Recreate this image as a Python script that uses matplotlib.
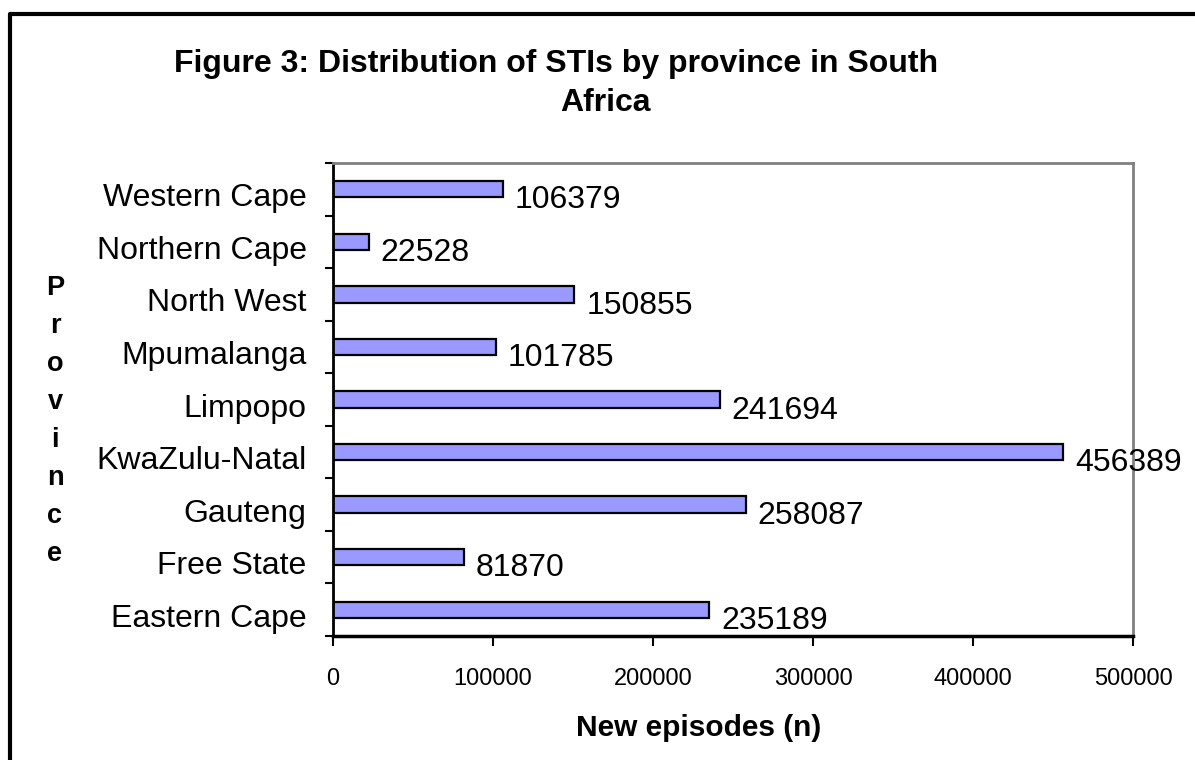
import matplotlib
matplotlib.use("Agg")
import matplotlib.pyplot as plt
from matplotlib.lines import Line2D
import numpy as np

provinces = ["Eastern Cape", "Free State", "Gauteng", "KwaZulu-Natal", "Limpopo",
             "Mpumalanga", "North West", "Northern Cape", "Western Cape"]
episodes = [235189, 81870, 258087, 456389, 241694, 101785, 150855, 22528, 106379]
xticks = [0, 100000, 200000, 300000, 400000, 500000]

plt.rcParams['font.family'] = ['Liberation Sans', 'DejaVu Sans']

W, H = 1195, 760
fig = plt.figure(figsize=(W / 100, H / 100), dpi=100)
ax = fig.add_axes([333 / W, 1 - 636 / H, 800 / W, (636 - 163) / H])

y = np.arange(len(provinces))
ax.barh(y, episodes, height=0.31, color='#9999FF', edgecolor='black', linewidth=1.6)

ax.set_xlim(0, 500000)
ax.set_ylim(-0.5, len(provinces) - 0.5)

# value labels
for yi, v in zip(y, episodes):
    ax.annotate(str(v), (v, yi), xytext=(8.5, -8), textcoords='offset points',
                ha='left', va='center', fontsize=23, color='black')

# y ticks between categories
ax.set_yticks(np.arange(-0.5, len(provinces), 1.0))
ax.set_yticklabels([])
ax.tick_params(axis='y', direction='out', length=6, width=1.5, color='black')
for yi, name in zip(y, provinces):
    ax.annotate(name, (0, yi), xytext=(-19, -6.5), textcoords='offset points',
                ha='right', va='center', fontsize=23, color='black',
                xycoords=('axes fraction', 'data'))

ax.set_xticks(xticks)
ax.set_xticklabels([str(t) for t in xticks], fontsize=17)
ax.tick_params(axis='x', direction='out', length=7, width=1.5, color='black', pad=16)

for s in ['top', 'right']:
    ax.spines[s].set_color('#808080')
    ax.spines[s].set_linewidth(2)
ax.spines['left'].set_color('black')
ax.spines['left'].set_linewidth(2)
ax.spines['bottom'].set_color('black')
ax.spines['bottom'].set_linewidth(2.5)

# titles
fig.text(556 / W, 1 - 64 / H, "Figure 3: Distribution of STIs by province in South",
         ha='center', va='center', fontsize=23, fontweight='bold')
fig.text(605 / W, 1 - 103 / H, "Africa",
         ha='center', va='center', fontsize=23, fontweight='bold')

# axis labels
fig.text(699 / W, 1 - 728 / H, "New episodes (n)", ha='center', va='center',
         fontsize=21.5, fontweight='bold')
fig.text(55 / W, 1 - 421 / H, "\n".join("Province"), ha='center', va='center',
         fontsize=19.5, fontweight='bold', linespacing=1.6)

# outer border
fig.add_artist(Line2D([10 / W, 10 / W, 1.0], [0.0, 1 - 14 / H, 1 - 14 / H],
                      transform=fig.transFigure, color='black', linewidth=3))

fig.savefig("out.png", dpi=100)
